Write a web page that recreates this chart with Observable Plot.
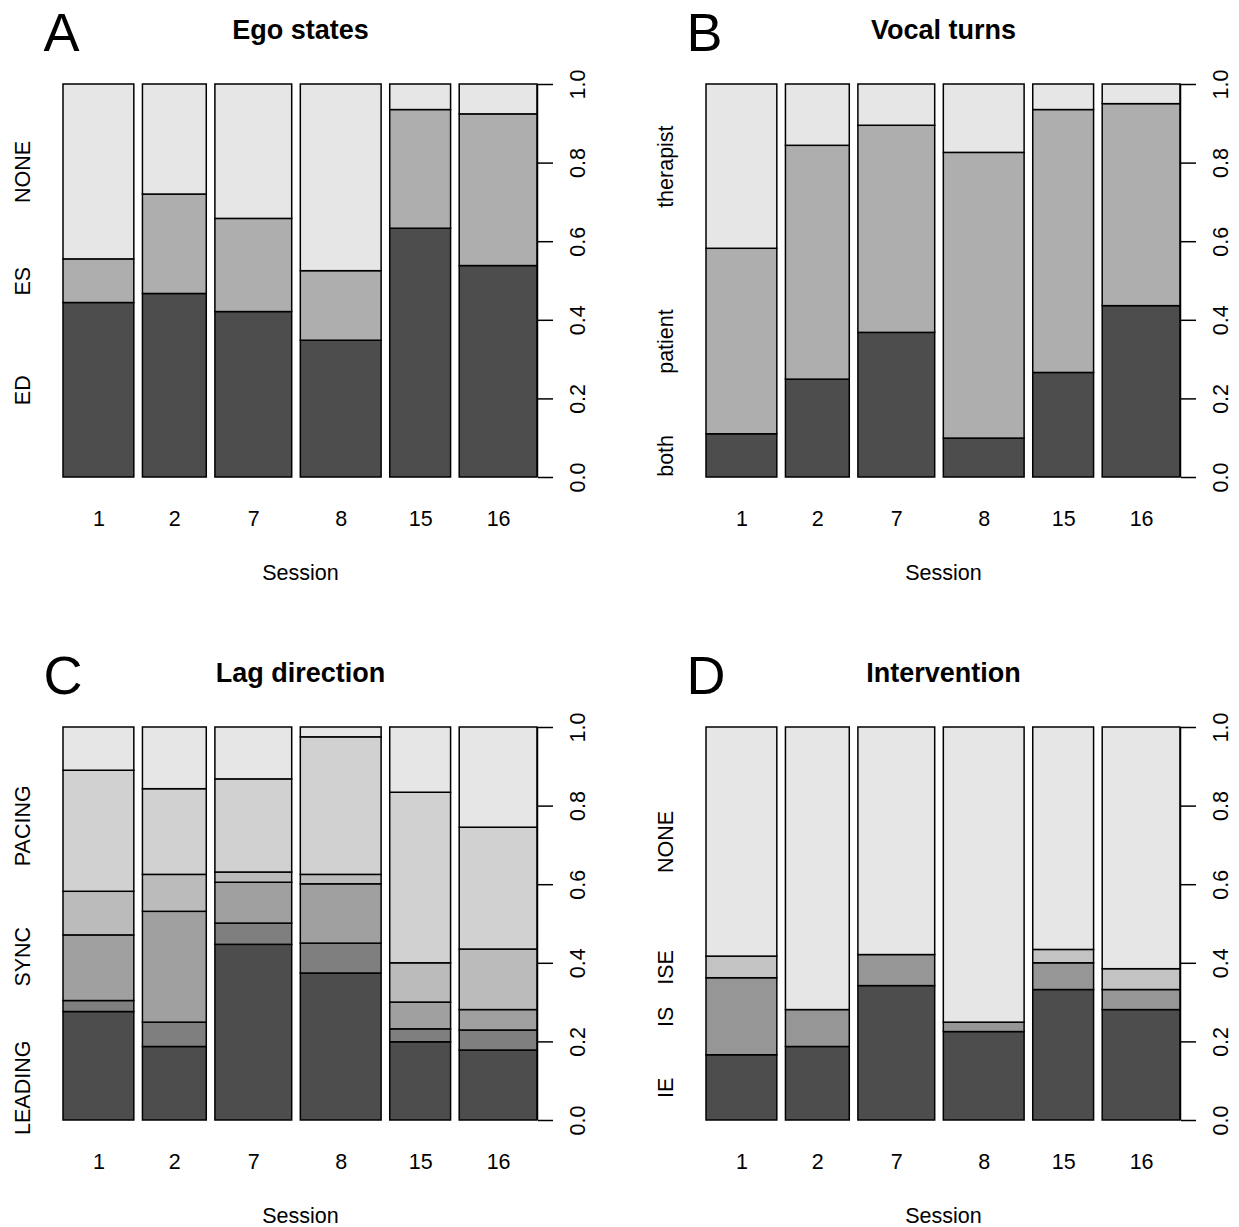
<!DOCTYPE html>
<html><head><meta charset="utf-8">
<script src="https://cdn.jsdelivr.net/npm/d3@7"></script>
<script src="https://cdn.jsdelivr.net/npm/@observablehq/plot@0.6"></script>
<style>
html,body{margin:0;padding:0;background:#fff;overflow:hidden;}
#wrap{position:relative;width:1239px;height:1227px;}
.panel{position:absolute;}
</style></head><body><div id="wrap"></div>
<script>
// ---- data (proportions) ----
const sessions = ["1", "2", "7", "8", "15", "16"];
const sessionWeights = [71, 64, 77, 81, 61, 78];   // relative bar widths (spineplot)
const yTicks = [0, 0.2, 0.4, 0.6, 0.8, 1.0];

// A: Ego states
const egoLabels = ["ED", "ES", "NONE"];
const egoED   = [0.444, 0.467, 0.421, 0.348, 0.633, 0.538];
const egoES   = [0.111, 0.253, 0.237, 0.177, 0.302, 0.386];
const egoNONE = [0.445, 0.280, 0.342, 0.475, 0.065, 0.076];

// B: Vocal turns
const vocalLabels = ["both", "patient", "therapist"];
const vocalBoth      = [0.110, 0.249, 0.368, 0.099, 0.266, 0.436];
const vocalPatient   = [0.472, 0.595, 0.527, 0.727, 0.669, 0.514];
const vocalTherapist = [0.418, 0.156, 0.105, 0.174, 0.065, 0.050];

// C: Lag direction (6 levels; only LEADING, SYNC, PACING labels are legible)
const lagLabels = ["LEADING", "", "SYNC", "", "PACING", ""];
const lag1 = [0.276, 0.187, 0.447, 0.374, 0.199, 0.178];
const lag2 = [0.028, 0.062, 0.054, 0.076, 0.033, 0.051];
const lag3 = [0.167, 0.282, 0.104, 0.151, 0.068, 0.052];
const lag4 = [0.111, 0.094, 0.026, 0.024, 0.100, 0.154];
const lag5 = [0.308, 0.218, 0.237, 0.350, 0.434, 0.310];
const lag6 = [0.110, 0.157, 0.132, 0.025, 0.166, 0.255];

// D: Intervention
const intLabels = ["IE", "IS", "ISE", "NONE"];
const intIE   = [0.166, 0.187, 0.342, 0.225, 0.332, 0.281];
const intIS   = [0.196, 0.094, 0.079, 0.024, 0.068, 0.051];
const intISE  = [0.055, 0.000, 0.000, 0.000, 0.034, 0.053];
const intNONE = [0.583, 0.719, 0.579, 0.751, 0.566, 0.615];

const panels = [
  {letter: "A", title: "Ego states",    labels: egoLabels,   series: [egoED, egoES, egoNONE], left: 0,   top: 0},
  {letter: "B", title: "Vocal turns",   labels: vocalLabels, series: [vocalBoth, vocalPatient, vocalTherapist], left: 643, top: 0},
  {letter: "C", title: "Lag direction", labels: lagLabels,   series: [lag1, lag2, lag3, lag4, lag5, lag6], left: 0,   top: 643},
  {letter: "D", title: "Intervention",  labels: intLabels,   series: [intIE, intIS, intISE, intNONE], left: 643, top: 643}
];

// R gray.colors(n): start 0.3, end 0.9, gamma 2.2
function grays(n) {
  const g = 2.2, s = Math.pow(0.3, g), e = Math.pow(0.9, g);
  return d3.range(n).map(i => {
    const v = Math.pow(s + (e - s) * (n === 1 ? 0 : i / (n - 1)), 1 / g);
    const c = Math.round(v * 255);
    return d3.rgb(c, c, c).formatHex();
  });
}

const FONT = "'Liberation Sans', Arial, Helvetica, sans-serif";
const FS = 21.5;

function makePanel(p) {
  const total = d3.sum(sessionWeights);
  const gap = 0.02 * total;
  let acc = 0;
  const xs = sessionWeights.map(w => { const a = acc; acc += w + gap; return [a, a + w]; });
  const xMax = acc - gap;
  const colors = grays(p.series.length);

  const rows = [];
  sessions.forEach((s, i) => {
    const barTotal = d3.sum(p.series, arr => arr[i]);
    let cum = 0;
    p.series.forEach((arr, k) => {
      const v = arr[i] / barTotal;
      rows.push({session: s, level: k, x1: xs[i][0], x2: xs[i][1], y1: cum, y2: cum + v});
      cum += v;
    });
  });

  const centers = sessions.map((s, i) => ({session: s, cx: (xs[i][0] + xs[i][1]) / 2}));

  // left labels: as in R spineplot (midpoints of first bar, or equidistant if a segment is tiny)
  const first = p.series.map(arr => arr[0]);
  const ft = d3.sum(first);
  const firstProp = first.map(v => v / ft);
  const n = p.series.length;
  let ypos;
  if (firstProp.some(v => v < 0.05)) {
    ypos = d3.range(n).map(k => (2 * k + 1) / (2 * n));
  } else {
    let c = 0;
    ypos = firstProp.map(v => { const m = c + v / 2; c += v; return m; });
  }
  const leftRows = p.labels.map((lab, k) => ({label: lab, y: ypos[k]})).filter(d => d.label !== "");

  const chart = Plot.plot({
    width: 596, height: 584,
    marginTop: 84, marginBottom: 107, marginLeft: 63, marginRight: 59,
    x: {domain: [0, xMax], axis: null},
    y: {domain: [0, 1]},
    style: {fontFamily: FONT, background: "white", color: "black", overflow: "visible"},
    marks: [
      Plot.rect(rows, {x1: "x1", x2: "x2", y1: "y1", y2: "y2", fill: d => colors[d.level], stroke: "black", strokeWidth: 1.5}),
      Plot.ruleX([xMax], {y1: 0, y2: 1, stroke: "black", strokeWidth: 1.5}),
      Plot.axisY({anchor: "right", ticks: yTicks, tickSize: 15, tickPadding: 17, tickRotate: -90,
                  lineAnchor: "top", textAnchor: "middle", tickFormat: d3.format(".1f"),
                  fontSize: FS, label: null, strokeWidth: 1.5}),
      Plot.text(centers, {x: "cx", text: "session", frameAnchor: "bottom", lineAnchor: "top", dy: 33, fontSize: FS}),
      Plot.text(["Session"], {frameAnchor: "bottom", lineAnchor: "top", dy: 87, fontSize: FS}),
      Plot.text(leftRows, {y: "y", text: "label", frameAnchor: "left", rotate: -90, lineAnchor: "bottom", textAnchor: "middle", dx: -34, fontSize: FS}),
      Plot.text([p.title], {frameAnchor: "top", lineAnchor: "middle", dy: -54, fontSize: 27, fontWeight: "bold"}),
      Plot.text([p.letter], {frameAnchor: "top-left", textAnchor: "start", lineAnchor: "middle", dx: -20, dy: -51, fontSize: 54})
    ]
  });
  const div = document.createElement("div");
  div.className = "panel";
  div.style.left = p.left + "px";
  div.style.top = p.top + "px";
  div.appendChild(chart);
  document.getElementById("wrap").appendChild(div);
}

panels.forEach(makePanel);
</script>
</body></html>
